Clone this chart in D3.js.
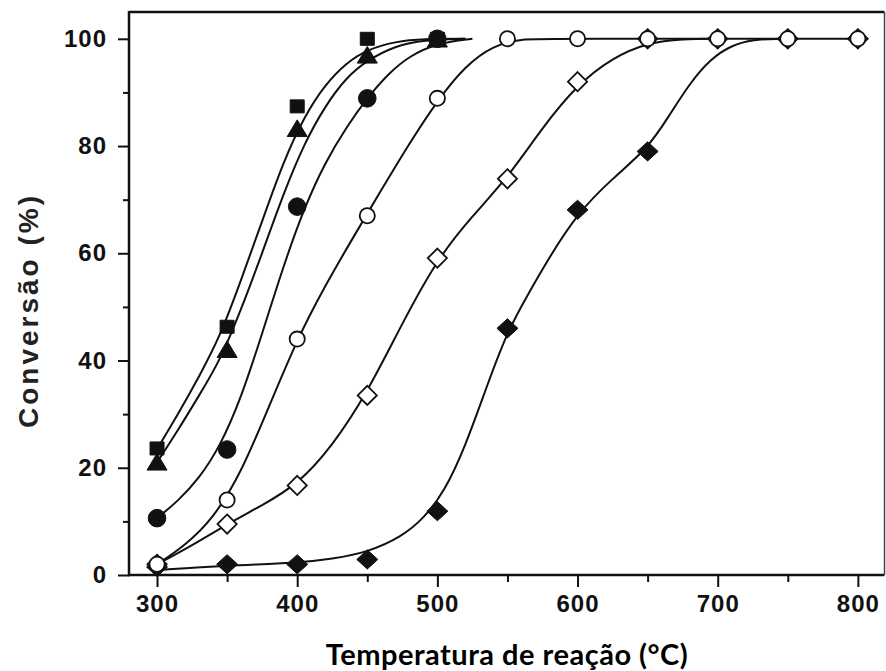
<!DOCTYPE html>
<html>
<head>
<meta charset="utf-8">
<script src="https://cdn.jsdelivr.net/npm/d3@7"></script>
<style>
  html, body { margin: 0; padding: 0; background: #fff; }
  svg { display: block; }
</style>
</head>
<body>
<svg id="chart" width="886" height="671"></svg>
<script>
// Measured conversion (%) at each reaction temperature (°C)
const tempsA = [300, 350, 400, 450, 500];
const tempsB = [300, 350, 400, 450, 500, 550, 600, 650, 700, 750, 800];

const squareVals   = [23.6, 46.3, 87.4, 100, 100];
const triangleVals = [21.1, 42.1, 83.3, 97.0, 100];
const dotVals      = [10.6, 23.4, 68.7, 88.9, 100];
const ringVals     = [2.0, 14.0, 44.0, 67.0, 88.9, 100, 100, 100, 100, 100, 100];
const rhombOpenVals = [2.0, 9.5, 16.7, 33.5, 59.1, 73.9, 92.0, 100, 100, 100, 100];
const rhombFillVals = [1.5, 2.0, 2.0, 2.9, 11.9, 46.0, 68.1, 79.0, null, 100, 100];

// Fitted trend curves (temperature / conversion pairs)
const squareFitT = [300, 315, 330, 345, 360, 375, 390, 405, 420, 435, 450, 470, 490, 520];
const squareFitV = [23.5, 30, 37, 44.5, 55, 66, 77, 85.5, 91.5, 95.5, 98, 99.5, 100, 100];
const triangleFitT = [300, 315, 330, 345, 360, 375, 390, 405, 420, 435, 450, 470, 490, 520];
const triangleFitV = [21, 27, 33.5, 40, 49.5, 60, 71, 80.5, 87.5, 92.8, 96, 98.7, 99.8, 100];
const dotFitT = [300, 315, 330, 345, 360, 375, 390, 405, 420, 435, 450, 465, 480, 500, 525];
const dotFitV = [10.6, 13.8, 18, 24, 33, 45, 57.5, 68.5, 77, 83.5, 89, 93.5, 96.8, 99.2, 100];
const ringFitT = [300, 320, 340, 360, 380, 400, 420, 440, 460, 480, 500, 520, 540, 560, 580, 800];
const ringFitV = [2, 5.5, 10.5, 19, 31.5, 44, 54, 63, 71.8, 80.5, 88.5, 95, 98.8, 100, 100, 100];
const rhombOpenFitT = [300, 325, 350, 375, 400, 425, 450, 475, 500, 525, 550, 575, 600, 625, 650, 675, 700];
const rhombOpenFitV = [2, 5.5, 9.5, 13, 16.8, 24, 34, 47, 59, 67, 74, 83.5, 91.5, 96.5, 99.3, 100, 100];
const rhombFillFitT = [300, 350, 400, 425, 450, 475, 490, 505, 520, 535, 550, 565, 580, 600, 625, 650, 665, 680, 695, 710, 725, 745];
const rhombFillFitV = [0.9, 1.8, 2.2, 3, 4.2, 7.2, 10.5, 15.5, 24, 35, 45.5, 52.5, 59.3, 67.5, 74, 79.5, 85.5, 91.7, 96.3, 98.8, 99.9, 100];

// Axis ticks
const xMajorTicks = [300, 400, 500, 600, 700, 800];
const xMinorTicks = [350, 450, 550, 650, 750];
const yMajorTicks = [0, 20, 40, 60, 80, 100];
const yMinorTicks = [10, 30, 50, 70, 90];

const xTitle = "Temperatura de reação (°C)";
const yTitle = "Conversão (%)";

// ---- layout ----
const svg = d3.select("#chart");
const plotL = 129, plotR = 884.5, plotT = 12, plotB = 575;

const x = d3.scaleLinear().domain([280, 819]).range([plotL, plotR]);
const y = d3.scaleLinear().domain([0, 105]).range([plotB, plotT]);

const tickFont = "'Liberation Sans', Arial, sans-serif";

// y axis
svg.append("g").attr("transform", `translate(${plotL},0)`)
  .call(d3.axisLeft(y).tickValues(yMajorTicks).tickSize(11).tickPadding(11).tickFormat(d3.format("d")));
svg.append("g").attr("transform", `translate(${plotL},0)`)
  .call(d3.axisLeft(y).tickValues(yMinorTicks).tickSize(6).tickFormat(""));

// x axis
svg.append("g").attr("transform", `translate(0,${plotB})`)
  .call(d3.axisBottom(x).tickValues(xMajorTicks).tickSize(12).tickPadding(8).tickFormat(d3.format("d")));
svg.append("g").attr("transform", `translate(0,${plotB})`)
  .call(d3.axisBottom(x).tickValues(xMinorTicks).tickSize(7).tickFormat(""));

svg.selectAll(".domain").remove();
svg.selectAll(".tick line").attr("stroke", "#111").attr("stroke-width", 2);
svg.selectAll(".tick text")
  .attr("font-family", tickFont)
  .attr("font-weight", "bold")
  .attr("font-size", 24)
  .attr("letter-spacing", 1)
  .attr("fill", "#111");

// frame
svg.append("line").attr("x1", plotL).attr("x2", plotL).attr("y1", plotT - 1).attr("y2", plotB + 1.2)
  .attr("stroke", "#111").attr("stroke-width", 2.5);
svg.append("line").attr("x1", plotL).attr("x2", plotR).attr("y1", plotB).attr("y2", plotB)
  .attr("stroke", "#111").attr("stroke-width", 2.5);
svg.append("line").attr("x1", plotL).attr("x2", plotR).attr("y1", plotT).attr("y2", plotT)
  .attr("stroke", "#111").attr("stroke-width", 2.5);
svg.append("line").attr("x1", plotR).attr("x2", plotR).attr("y1", plotT).attr("y2", plotB)
  .attr("stroke", "#444").attr("stroke-width", 1.5);

// ---- fitted curves (smoothed B-spline through the sampled fit) ----
const line = d3.line()
  .x(d => x(d[0])).y(d => y(d[1]))
  .curve(d3.curveBasis);

const fits = [
  [squareFitT, squareFitV],
  [triangleFitT, triangleFitV],
  [dotFitT, dotFitV],
  [ringFitT, ringFitV],
  [rhombOpenFitT, rhombOpenFitV],
  [rhombFillFitT, rhombFillFitV]
];
const curves = svg.append("g");
fits.forEach(([ts, vs]) => {
  curves.append("path")
    .datum(ts.map((t, i) => [t, vs[i]]))
    .attr("d", line)
    .attr("fill", "none")
    .attr("stroke", "#111")
    .attr("stroke-width", 2);
});

// ---- markers ----
function pairs(ts, vs) {
  return ts.map((t, i) => [t, vs[i]]).filter(d => d[1] != null);
}
const marks = svg.append("g");

function drawShape(data, shapeFn, fill, sw) {
  marks.append("g").selectAll("path").data(data).join("path")
    .attr("transform", d => `translate(${x(d[0])},${y(d[1])})`)
    .attr("d", shapeFn)
    .attr("fill", fill)
    .attr("stroke", "#111")
    .attr("stroke-width", sw);
}
const squarePath = () => "M-7,-6.5H7V6.5H-7Z";
const trianglePath = () => "M0,-8.5L10,8.2L-10,8.2Z";
const circlePath = r => () => `M${r},0A${r},${r} 0 1,1 ${-r},0A${r},${r} 0 1,1 ${r},0Z`;
const diamondPath = (hw, hh) => () => `M0,${-hh}L${hw},0L0,${hh}L${-hw},0Z`;

drawShape(pairs(tempsB, rhombFillVals), diamondPath(10.5, 9.6), "#111", 1);
drawShape(pairs(tempsB, rhombOpenVals), diamondPath(9.6, 9.6), "#fff", 1.8);
drawShape(pairs(tempsA, triangleVals), trianglePath, "#111", 1);
drawShape(pairs(tempsA, squareVals), squarePath, "#111", 1);
drawShape(pairs(tempsA, dotVals), circlePath(8.8), "#111", 1);
drawShape(pairs(tempsB, ringVals), circlePath(7.6), "#fff", 1.8);

// ---- titles ----
svg.append("text")
  .attr("x", (plotL + plotR) / 2)
  .attr("y", 665)
  .attr("text-anchor", "middle")
  .attr("font-family", "Lato, 'Open Sans', sans-serif")
  .attr("font-weight", "bold")
  .attr("font-size", 29)
  .attr("textLength", 362)
  .attr("lengthAdjust", "spacing")
  .attr("fill", "#000")
  .text(xTitle);

svg.append("text")
  .attr("transform", "translate(38,312) rotate(-90)")
  .attr("text-anchor", "middle")
  .attr("font-family", tickFont)
  .attr("font-weight", "bold")
  .attr("font-size", 28)
  .attr("textLength", 232)
  .attr("lengthAdjust", "spacing")
  .attr("fill", "#222")
  .text(yTitle);
</script>
</body>
</html>
